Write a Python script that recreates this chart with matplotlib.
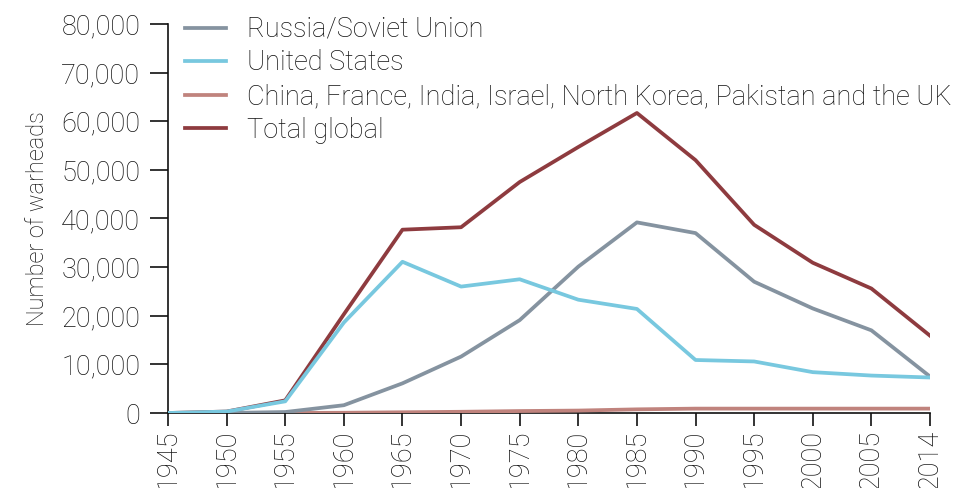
import matplotlib.pyplot as plt
from matplotlib.ticker import FuncFormatter

years = ['1945', '1950', '1955', '1960', '1965', '1970', '1975',
         '1980', '1985', '1990', '1995', '2000', '2005', '2014']

russia = [0, 5, 200, 1600, 6100, 11600, 19100, 30100, 39200, 37000, 27000, 21500, 17000, 7500]
united_states = [0, 300, 2400, 18600, 31100, 26000, 27500, 23300, 21400, 10900, 10600, 8400, 7700, 7300]
others = [0, 0, 0, 50, 150, 250, 400, 500, 750, 900, 900, 900, 900, 900]
total = [0, 300, 2600, 20300, 37700, 38200, 47500, 54700, 61700, 52000, 38700, 30900, 25600, 15900]

plt.rcParams['font.family'] = ['Roboto', 'Liberation Sans', 'DejaVu Sans']
plt.rcParams['font.weight'] = 'light'
plt.rcParams['axes.labelweight'] = 'light'
txt = '#111111'

fig = plt.figure(figsize=(9.56, 4.88), dpi=100)
ax = fig.add_axes([168 / 956, 75 / 488, 762 / 956, 389 / 488])

x = range(len(years))
lw = 2.7
ax.plot(x, total, color='#8e3b3f', lw=lw, label='Total global', zorder=2)
ax.plot(x, others, color='#c0837d', lw=lw, label='China, France, India, Israel, North Korea, Pakistan and the UK', zorder=3)
ax.plot(x, russia, color='#8593a0', lw=lw, label='Russia/Soviet Union', zorder=4)
ax.plot(x, united_states, color='#78c8df', lw=lw, label='United States', zorder=5)

ax.set_xlim(0, len(years) - 1)
ax.set_ylim(0, 80000)
ax.set_xticks(list(x))
ax.set_xticklabels(years, rotation=90)
ax.set_yticks(range(0, 80001, 10000))
ax.yaxis.set_major_formatter(FuncFormatter(lambda v, p: f'{int(v):,}'))

for s in ['top', 'right']:
    ax.spines[s].set_visible(False)
for s in ['left', 'bottom']:
    ax.spines[s].set_color(txt)
    ax.spines[s].set_linewidth(1.2)
ax.tick_params(axis='both', colors=txt, labelsize=19.5, width=1.2)
ax.tick_params(axis='y', length=13, pad=7)
ax.tick_params(axis='x', length=9, pad=3)
ax.set_ylabel('Number of warheads', fontsize=17, fontweight='light', color=txt, labelpad=9)

handles, labels = ax.get_legend_handles_labels()
order = [2, 3, 1, 0]
leg = fig.legend([handles[i] for i in order], [labels[i] for i in order],
                 loc='upper left', bbox_to_anchor=(185 / 956, 1 - 16 / 488),
                 bbox_transform=fig.transFigure, frameon=False,
                 fontsize=19.5, handlelength=1.5, handletextpad=0.8, labelspacing=0.24,
                 borderpad=0, borderaxespad=0)
for t in leg.get_texts():
    t.set_color(txt)

fig.savefig('out.png', dpi=100)
